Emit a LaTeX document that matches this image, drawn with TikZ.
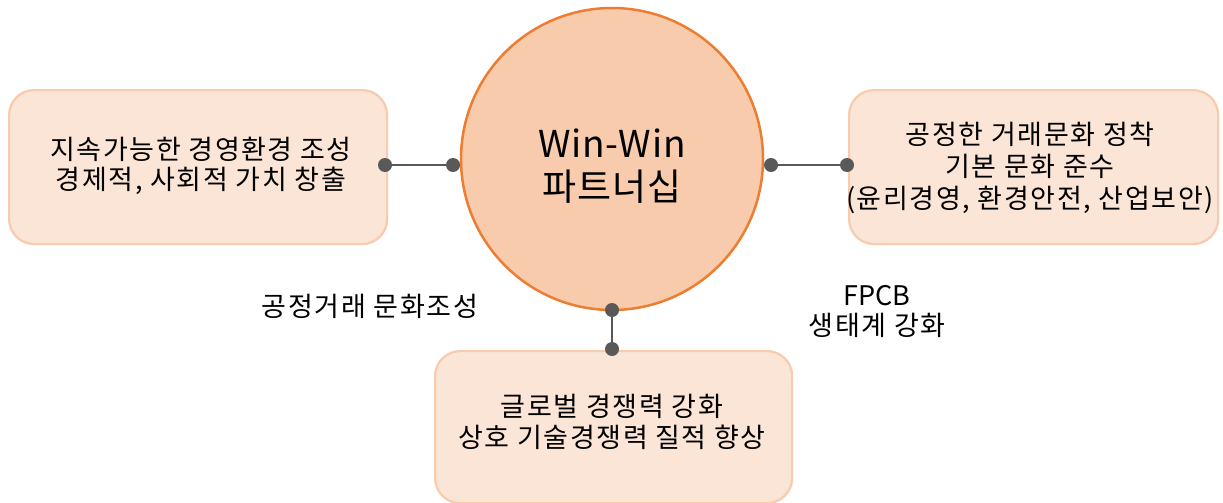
\documentclass[tikz,border=0pt]{standalone}
\usepackage{fontspec}
\setmainfont{Noto Sans CJK KR}
\newfontfamily\kr[LetterSpace=6]{Noto Sans CJK KR}
\newfontfamily\krplain{Noto Sans CJK KR}
\newfontfamily\krbig[LetterSpace=2]{Noto Sans CJK KR}
\definecolor{boxfill}{HTML}{FBE5D6}
\definecolor{boxline}{HTML}{F8CBAD}
\definecolor{circfill}{HTML}{F8CBAD}
\definecolor{circline}{HTML}{ED7D31}
\definecolor{conn}{HTML}{595959}
\tikzset{
  card/.style={draw=boxline, fill=boxfill, line width=2.2pt, rounded corners=25pt, anchor=north west, inner sep=0pt},
  body/.style={align=center, font=\kr\fontsize{27}{30}\selectfont, text=black},
  dotpt/.style={circle, fill=conn, minimum size=14pt, inner sep=0pt},
  link/.style={draw=conn, line width=2.5pt},
}
\begin{document}
\begin{tikzpicture}[x=1pt,y=-1pt]
\useasboundingbox[fill=white] (0,0) rectangle (1223,503);
% boxes
\node[card, minimum width=378pt, minimum height=154pt] (L) at (8,89) {};
\node[card, minimum width=369pt, minimum height=154pt] (R) at (848,89) {};
\node[card, minimum width=357pt, minimum height=152pt] (B) at (434,350) {};
% circle
\node[circle, draw=circline, fill=circfill, line width=2.5pt, minimum size=302pt, inner sep=0pt] (C) at (612,159) {};
% texts
\node[body] (Lt) at (201,166) {지속가능한 경영환경 조성\\경제적, 사회적 가치 창출};
\node[body, font=\kr\fontsize{27}{32}\selectfont] (Rt) at (1030,168) {공정한 거래문화 정착\\기본 문화 준수\\(윤리경영, 환경안전, 산업보안)};
\node[body, font=\kr\fontsize{27}{31}\selectfont] (Bt) at (612,422) {글로벌 경쟁력 강화\\상호 기술경쟁력 질적 향상};
\node[align=center, font=\krbig\fontsize{37}{43}\selectfont] (Ct) at (612,166) {Win-Win\\파트너십};
\node[body] (t1) at (370,306) {공정거래 문화조성};
\node[body] (t2) at (877,311) {{\krplain FPCB}\\생태계 강화};
% connectors
\node[dotpt] (l1) at (385,165) {};
\node[dotpt] (l2) at (453,165) {};
\node[dotpt] (r1) at (771,165) {};
\node[dotpt] (r2) at (847,165) {};
\node[dotpt] (b1) at (612,310) {};
\node[dotpt] (b2) at (612,349) {};
\draw[link] (l1) -- (l2);
\draw[link] (r1) -- (r2);
\draw[link] (b1) -- (b2);
\end{tikzpicture}
\end{document}
